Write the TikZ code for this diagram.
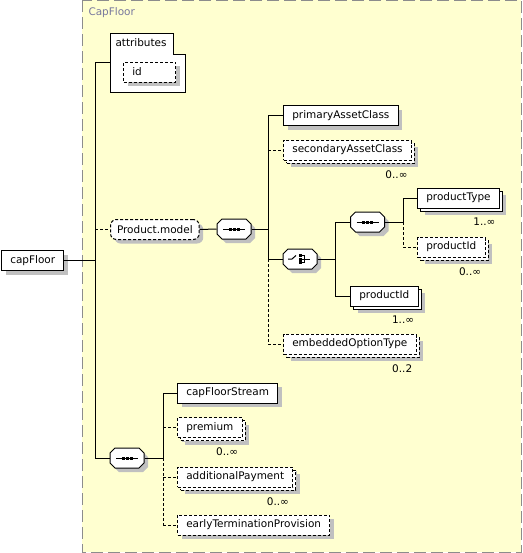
\documentclass[tikz,border=0pt]{standalone}
\usepackage{fontspec}
\setmainfont{DejaVu Sans}

\definecolor{xsdyellow}{HTML}{FFFFD0}
\definecolor{xsdshade}{HTML}{C0C0C0}
\definecolor{xsdframe}{HTML}{8C8C8C}
\newcommand\xsdsize{\fontsize{7.85}{9.4}\selectfont}

% compositor outline (chamfered box with shadow) around a named node
\newcommand\compbox[1]{%
  \begin{scope}[shift={(#1.center)}]
    \fill[xsdshade, shift={(4,4)}] (-12,-10) -- (12,-10) -- (17,-5) -- (17,5) -- (12,10) -- (-12,10) -- (-17,5) -- (-17,-5) -- cycle;
    \draw[fill=white] (-12,-10) -- (12,-10) -- (17,-5) -- (17,5) -- (12,10) -- (-12,10) -- (-17,5) -- (-17,-5) -- cycle;
  \end{scope}}
% sequence and choice marks inside a compositor
\newcommand\seqmark[1]{%
  \compbox{#1}
  \begin{scope}[shift={(#1.center)}]
    \draw (-11,0) -- (11,0);
    \foreach \dx in {-4,0,4}
      \fill (\dx-1.5,-1.5) rectangle (\dx+1.5,1.5);
  \end{scope}}
\newcommand\choicemark[1]{%
  \compbox{#1}
  \begin{scope}[shift={(#1.center)}]
    \draw (-12,0) -- (-8,0) -- (-4,-3.5);
    \foreach \dy in {-3.5,0,3.5}
      \fill (-1.5,\dy-1.5) rectangle (1.5,\dy+1.5);
    \draw (0,-3.5) -- (4,-3.5) -- (4,3.5) -- (0,3.5) (0,0) -- (10,0);
  \end{scope}}

\tikzset{
  elem/.style={draw, fill=white, anchor=west, minimum height=15pt,
    inner xsep=6.6pt, inner ysep=0pt, font=\xsdsize,
    preaction={fill=xsdshade, draw=none, solid,
      transform canvas={shift={(3pt,-3pt)}}}},
  opt/.style={dash pattern=on 2.25pt off 1.5pt},
  multi/.style={
    preaction={fill=xsdshade, draw=none, solid,
      transform canvas={shift={(5.25pt,-5.25pt)}}},
    preaction={draw, fill=white,
      transform canvas={shift={(2.25pt,-2.25pt)}}}},
  comp/.style={rectangle, minimum width=25.5pt, minimum height=15pt, inner sep=0pt},
  mult/.style={font=\xsdsize, inner sep=0pt, anchor=north east},
}

\begin{document}
\begin{tikzpicture}[x=0.75pt, y=-0.75pt, line width=0.75pt]
\useasboundingbox (0,0) rectangle (522,553);

% group frame
\draw[xsdframe, fill=xsdyellow, dash pattern=on 9pt off 3.75pt] (82,0) rectangle (521,552);
\node[anchor=west, font=\xsdsize, text=xsdframe!85!blue, inner sep=0pt] (group) at (88,13) {CapFloor};

% root
\node[elem] (capFloor) at (1,260.5) {capFloor};

% attributes
\draw[fill=white] (110,33) -- (173,33) -- (173,54) -- (185,54) -- (185,92) -- (110,92) -- cycle;
\node[anchor=west, font=\xsdsize, inner sep=0pt] (attr) at (115,43) {attributes};
\node[elem, opt, text width=25.8pt] (id) at (123,72) {id};
\coordinate (attrin) at (110,62);

% Product.model group
\node[elem, opt, rounded corners=4.5pt, inner xsep=4.9pt] (model) at (110,229.5) {Product.model};
\node[comp] (seqA) at (234,229) {};
\seqmark{seqA}
\node[elem] (primary) at (283,115.5) {primaryAssetClass};
\node[elem, opt, multi] (secondary) at (283,150) {secondaryAssetClass};
\node[mult] at ([xshift=-3pt, yshift=-7pt]secondary.south east) {0..∞};
\node[comp] (choice) at (300,259) {};
\choicemark{choice}
\node[comp] (seqB) at (367.5,222) {};
\seqmark{seqB}
\node[elem, multi] (ptype) at (417,198) {productType};
\node[mult] at ([xshift=-3pt, yshift=-7pt]ptype.south east) {1..∞};
\node[elem, opt, multi] (pidA) at (417,247) {productId};
\node[mult] at ([xshift=-3pt, yshift=-7pt]pidA.south east) {0..∞};
\node[elem, multi] (pidB) at (350,296) {productId};
\node[mult] at ([xshift=-3pt, yshift=-7pt]pidB.south east) {1..∞};
\node[elem, opt, multi] (embedded) at (283,344) {embeddedOptionType};
\node[mult] at ([xshift=-3pt, yshift=-7pt]embedded.south east) {0..2};

% streams
\node[comp] (seqC) at (127,458) {};
\seqmark{seqC}
\node[elem] (stream) at (177,393) {capFloorStream};
\node[elem, opt, multi] (premium) at (177,427.5) {premium};
\node[mult] at ([xshift=-3pt, yshift=-7pt]premium.south east) {0..∞};
\node[elem, opt, multi] (payment) at (177,477) {additionalPayment};
\node[mult] at ([xshift=-3pt, yshift=-7pt]payment.south east) {0..∞};
\node[elem, opt] (early) at (177,525) {earlyTerminationProvision};

% connectors
\coordinate (jRoot) at (95,260.5);
\coordinate (jModel) at (268,229);
\coordinate (jChoice) at (335,259);
\coordinate (jSeqB) at (403,222);
\coordinate (jSeqC) at (163,458);

\draw (capFloor.east) -- (jRoot);
\draw (attrin -| jRoot) -- (seqC -| jRoot);
\draw (attrin -| jRoot) -- (attrin);
\draw[opt] (model -| jRoot) -- (model.west);
\draw (seqC -| jRoot) -- (seqC.west);

\draw (model.east) -- (seqA.west);
\draw (seqA.east) -- (jModel);
\draw (primary -| jModel) -- (choice -| jModel);
\draw[opt] (choice -| jModel) -- (embedded -| jModel);
\draw (primary -| jModel) -- (primary.west);
\draw[opt] (secondary -| jModel) -- (secondary.west);
\draw (choice -| jModel) -- (choice.west);
\draw[opt] (embedded -| jModel) -- (embedded.west);

\draw (choice.east) -- (jChoice);
\draw (seqB -| jChoice) -- (pidB -| jChoice);
\draw (seqB -| jChoice) -- (seqB.west);
\draw (pidB -| jChoice) -- (pidB.west);

\draw (seqB.east) -- (jSeqB);
\draw (ptype -| jSeqB) -- (jSeqB);
\draw[opt] (jSeqB) -- (pidA -| jSeqB);
\draw (ptype -| jSeqB) -- (ptype.west);
\draw[opt] (pidA -| jSeqB) -- (pidA.west);

\draw (seqC.east) -- (jSeqC);
\draw (stream -| jSeqC) -- (jSeqC);
\draw[opt] (jSeqC) -- (early -| jSeqC);
\draw (stream -| jSeqC) -- (stream.west);
\draw[opt] (premium -| jSeqC) -- (premium.west);
\draw[opt] (payment -| jSeqC) -- (payment.west);
\draw[opt] (early -| jSeqC) -- (early.west);
\end{tikzpicture}
\end{document}
